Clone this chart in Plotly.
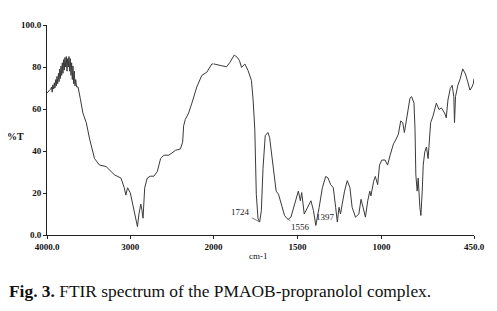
import numpy as np
import plotly.graph_objects as go

# Wavenumber (cm-1) and transmittance (%T)
wavenumber = [4000, 3985, 3970, 3955, 3945, 3938, 3930, 3920, 3912, 3905, 3895, 3888, 3880, 3872,
              3862, 3855, 3848, 3840, 3832, 3824, 3816, 3808, 3800, 3792, 3785, 3776, 3768, 3760,
              3752, 3744, 3736, 3728, 3720, 3712, 3704, 3696, 3688, 3680, 3672, 3664, 3655, 3645,
              3627, 3600, 3568, 3528, 3488, 3429, 3369, 3290, 3191, 3111, 3072, 3052, 3032, 3000,
              2973, 2945, 2925, 2913, 2895, 2873, 2860, 2846, 2826, 2795, 2760, 2715, 2675, 2635,
              2596, 2536, 2457, 2397, 2370, 2358, 2338, 2298, 2259, 2200, 2140, 2080, 2020, 2000,
              1980, 1951, 1922, 1902, 1876, 1857, 1845, 1833, 1813, 1794, 1774, 1764, 1754, 1745,
              1735, 1725, 1715, 1705, 1692, 1676, 1666, 1646, 1627, 1613, 1597, 1577, 1562, 1555,
              1539, 1519, 1509, 1495, 1483, 1475, 1460, 1440, 1420, 1405, 1395, 1391, 1371, 1352,
              1332, 1318, 1303, 1287, 1273, 1263, 1253, 1244, 1234, 1220, 1204, 1188, 1175, 1155,
              1135, 1122, 1110, 1096, 1082, 1070, 1063, 1047, 1037, 1023, 1012, 998, 979, 964,
              949, 929, 913, 900, 886, 874, 864, 855, 841, 831, 821, 807, 801, 796, 788, 782, 772,
              766, 758, 752, 743, 733, 723, 717, 708, 694, 674, 658, 644, 625, 615, 605, 591, 580,
              570, 566, 560, 546, 532, 517, 501, 487, 474, 462, 454, 450]
transmittance = [67.5, 68.5, 69, 69.5, 70.5, 68, 71.5, 69.5, 72.5, 70, 74, 71, 75.5, 72,
                 77, 73, 79, 74.5, 80.5, 76, 82, 77, 83.5, 78.5, 84.5, 80, 85, 78,
                 84, 80, 85, 78, 84, 76, 82, 74, 80.5, 72, 78, 71, 74, 70.5,
                 70.5, 65, 58, 53.5, 45.7, 36.4, 33.3, 32.6, 28.7, 27.1, 22.5, 19, 22.5, 20.2,
                 14.9, 8.5, 6, 4, 10, 14.7, 12, 8, 22.5, 27.1, 28, 28, 30.2, 36.4,
                 38, 38, 40.3, 41, 44.2, 52, 55, 58.1, 62.8, 70.5, 76, 77.5, 81.4, 81.5,
                 81, 80.6, 80.1, 82.2, 85.7, 84.5, 83, 79.8, 81.4, 78.3, 73.6, 64.3, 50.4, 19.4,
                 7.8, 6.2, 11.6, 31.8, 47.3, 48.8, 46.5, 33.3, 20.9, 19.4, 14.7, 9.3, 7.8, 7.5,
                 8.5, 14.7, 17.8, 20.9, 16.3, 20.2, 10, 13.2, 16.3, 11.6, 5, 4.6, 13.2, 22.5,
                 27.9, 27.1, 24, 22.5, 13.2, 6.2, 13.2, 10, 14.7, 20.9, 25.9, 22.5, 13.2, 8.5,
                 10, 17, 13.2, 8.5, 16.3, 20.9, 18.6, 25.6, 27.9, 24, 33.3, 35.7, 35.7, 33.3,
                 38, 43.4, 45.7, 48, 54.3, 53.5, 48.8, 53.5, 59.7, 65.1, 65.9, 62.8, 50.4, 28.7, 20.9, 27.1, 13.2,
                 9.3, 20.9, 33.3, 39.5, 41.9, 36.4, 45.7, 53.5, 56.6, 62.8, 59.7, 60.5, 58.1, 55.8, 64.3, 69.8, 71.3,
                 65.9, 53.5, 65.9, 71.3, 74.4, 79.1, 76.7, 72.9, 69, 70.5, 72.1, 74.4]

# Labelled peaks
peak_wn = [1724, 1556, 1397]
peak_t = [6.2, 7.5, 4.6]
peak_labels = ["1724", "1556", "1397"]

y_ticks = [0, 20, 40, 60, 80, 100]
y_ticktext = ["0.0", "20", "40", "60", "80", "100.0"]
x1_ticks = [4000, 3000]
x1_ticktext = ["4000.0", "3000"]
x2_ticks = [2000, 1500, 1000, 450]
x2_ticktext = ["2000", "1500", "1000", "450.0"]

wn = np.array(wavenumber, dtype=float)
tr = np.array(transmittance, dtype=float)
hi = wn >= 2000
lo = wn <= 2000

FONT = "Liberation Serif"
LINE = "#3a3a3a"

fig = go.Figure()
fig.add_trace(go.Scatter(x=wn[hi], y=tr[hi], mode="lines", xaxis="x", yaxis="y",
                         line=dict(color=LINE, width=1), showlegend=False))
fig.add_trace(go.Scatter(x=wn[lo], y=tr[lo], mode="lines", xaxis="x2", yaxis="y",
                         line=dict(color=LINE, width=1), showlegend=False))

split = (215 - 47) / (478 - 47)
tickfont = dict(family=FONT, size=9, color="#111", weight="bold")

# page body has an 8px margin; figure sized so the plot area lands where the reference has it
fig.update_layout(
    width=489, height=303,
    margin=dict(l=39, r=19, t=12, b=76),
    paper_bgcolor="white", plot_bgcolor="white",
    xaxis=dict(domain=[0, split], range=[4000, 2000], showgrid=False, zeroline=False,
               showline=True, linecolor="#222", linewidth=1, ticks="outside", ticklen=3,
               tickcolor="#222", tickvals=x1_ticks, ticktext=x1_ticktext, tickfont=tickfont,
               anchor="y"),
    xaxis2=dict(domain=[split, 1], range=[2000, 450], showgrid=False, zeroline=False,
                showline=True, linecolor="#222", linewidth=1, ticks="outside", ticklen=3,
                tickcolor="#222", tickvals=x2_ticks, ticktext=x2_ticktext, tickfont=tickfont,
                anchor="y"),
    yaxis=dict(range=[0, 100], showgrid=False, zeroline=False, showline=True,
               linecolor="#222", linewidth=1, ticks="outside", ticklen=3, tickcolor="#222",
               tickvals=y_ticks, ticktext=y_ticktext, tickfont=tickfont),
)

offsets = [(-19, -10), (12, 8), (11, -8)]
for w, t, lab, (ax, ay) in zip(peak_wn, peak_t, peak_labels, offsets):
    fig.add_annotation(x=w, y=t, xref="x2", yref="y", text=lab, showarrow=True,
                       arrowhead=0, arrowwidth=0.8, arrowcolor="#555", ax=ax, ay=ay,
                       font=dict(family=FONT, size=9, color="#222"))

fig.add_annotation(x=(15 - 47) / 431, y=(235 - 134) / 215, xref="paper", yref="paper",
                   text="%T", showarrow=False, xanchor="center", yanchor="middle",
                   font=dict(family=FONT, size=10, color="#111", weight="bold"))
fig.add_annotation(x=(260 - 47) / 431, y=(235 - 256) / 215, xref="paper", yref="paper",
                   text="cm-1", showarrow=False, xanchor="center", yanchor="middle",
                   font=dict(family=FONT, size=9, color="#111"))
fig.add_annotation(x=(7 - 47) / 431, y=(235 - 292) / 215, xref="paper", yref="paper",
                   text="<b>Fig. 3.</b> FTIR spectrum of the PMAOB-propranolol complex.",
                   showarrow=False, xanchor="left", yanchor="middle",
                   font=dict(family=FONT, size=17.4, color="#111"))

fig.write_html("out.html")
